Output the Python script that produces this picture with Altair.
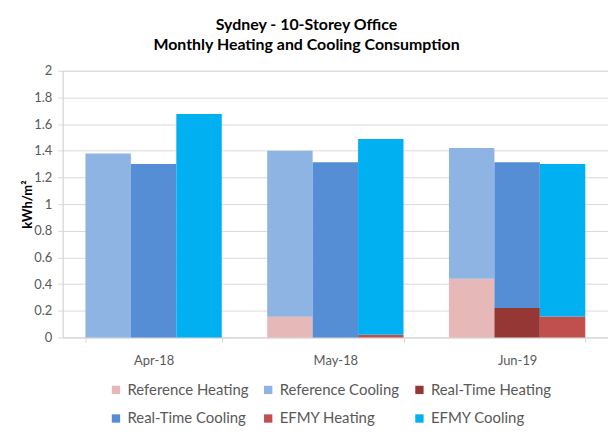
import altair as alt
import pandas as pd

months = ["Apr-18", "May-18", "Jun-19"]
scenarios = ["Reference", "Real-Time", "EFMY"]
ref_heating = [0.0, 0.155, 0.44]
ref_cooling = [1.38, 1.245, 0.98]
rt_heating = [0.0, 0.0, 0.22]
rt_cooling = [1.30, 1.313, 1.093]
efmy_heating = [0.0, 0.02, 0.157]
efmy_cooling = [1.675, 1.468, 1.143]

series_order = ["Reference Heating", "Reference Cooling", "Real-Time Heating",
                "Real-Time Cooling", "EFMY Heating", "EFMY Cooling"]
colors = ["#E6B9B8", "#8EB4E3", "#953735", "#558ED5", "#C0504D", "#00B0F0"]
y_ticks = [0.0, 0.2, 0.4, 0.6, 0.8, 1.0, 1.2, 1.4, 1.6, 1.8, 2.0]

rows = []
for sc, heat, cool in [("Reference", ref_heating, ref_cooling),
                       ("Real-Time", rt_heating, rt_cooling),
                       ("EFMY", efmy_heating, efmy_cooling)]:
    for i, m in enumerate(months):
        rows.append({"month": m, "scenario": sc, "series": f"{sc} Heating", "value": heat[i], "ord": 0})
        rows.append({"month": m, "scenario": sc, "series": f"{sc} Cooling", "value": cool[i], "ord": 1})
df = pd.DataFrame(rows)

FONT = "Lato"
GRAY = "#595959"

chart = alt.Chart(df).mark_bar().encode(
    x=alt.X("month:N", sort=months,
            scale=alt.Scale(domain=months, paddingInner=0.25, paddingOuter=0.125),
            axis=alt.Axis(title=None, labelAngle=0, ticks=True, tickBand="extent", tickSize=5,
                          tickColor="#D9D9D9", domain=True, domainColor="#D9D9D9",
                          labelColor=GRAY, labelFontSize=13, labelFont=FONT, labelPadding=12)),
    xOffset=alt.XOffset("scenario:N", sort=scenarios,
                        scale=alt.Scale(domain=scenarios, paddingInner=0, paddingOuter=0)),
    y=alt.Y("value:Q", stack="zero",
            scale=alt.Scale(domain=[0, 2], nice=False),
            axis=alt.Axis(title="kWh/m²", values=y_ticks, labelOverlap=False,
                          format="~g", grid=True, gridColor="#D9D9D9", domainColor="#D9D9D9",
                          tickColor="#D9D9D9", tickSize=5, labelColor=GRAY, labelFontSize=13,
                          labelFont=FONT, labelPadding=6, titleFont=FONT, titleFontSize=13,
                          titleColor="#000000", titleFontWeight="bold", titlePadding=-1)),
    color=alt.Color("series:N", scale=alt.Scale(domain=series_order, range=colors),
                    legend=alt.Legend(title=None, orient="none", legendX=46, legendY=313,
                                      direction="horizontal",
                                      columns=3, columnPadding=12, rowPadding=13,
                                      symbolType="square", symbolSize=70, symbolStrokeWidth=0,
                                      labelFont=FONT, labelFontSize=15, labelColor=GRAY,
                                      labelLimit=300)),
    order=alt.Order("ord:Q"),
).properties(
    width=548, height=268,
    autosize=alt.AutoSizeParams(type="none"),
    padding={"left": 55, "top": 62, "right": 0, "bottom": 98},
    title=alt.TitleParams(text=["Sydney  -  10-Storey Office", "Monthly Heating and Cooling Consumption"],
                          anchor="middle", dx=-29, offset=12, font=FONT, fontSize=16,
                          fontWeight="bold", color="#000000", lineHeight=20),
).configure_view(stroke=None).configure(background="white")

chart.save("out.html", embed_options={"renderer": "svg", "actions": False})
